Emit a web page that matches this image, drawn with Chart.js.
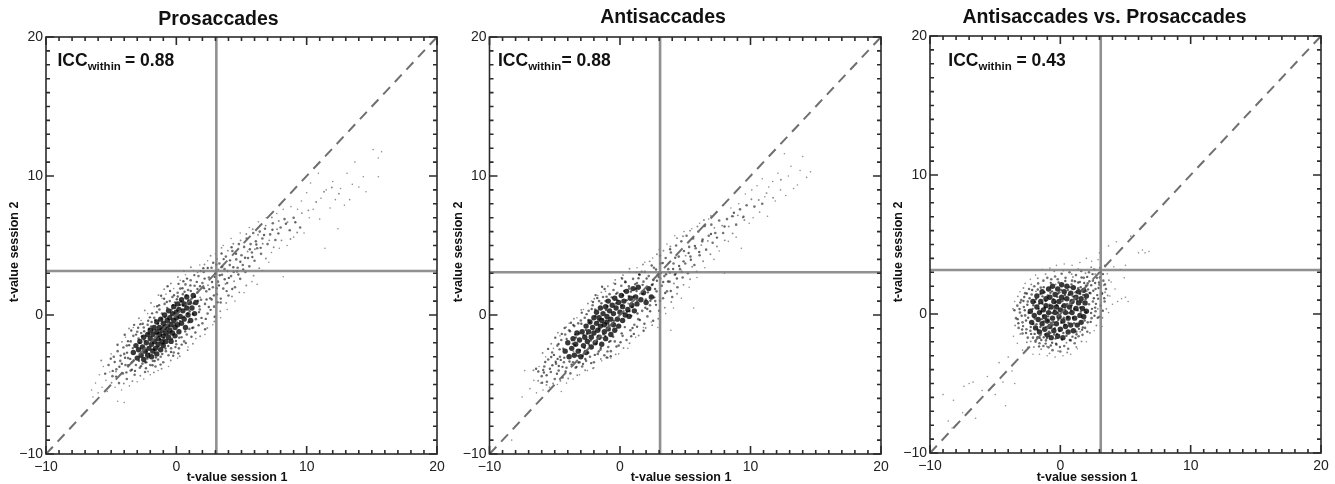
<!DOCTYPE html>
<html>
<head>
<meta charset="utf-8">
<title>Test-retest t-values</title>
<script src="https://cdn.jsdelivr.net/npm/chart.js@4/dist/chart.umd.min.js"></script>
<style>
  html, body { margin: 0; padding: 0; background: #fff; overflow: hidden; }
  body { width: 1335px; height: 484px; position: relative; }
  canvas { position: absolute; top: 0; }
</style>
</head>
<body>
<canvas id="pro"></canvas>
<canvas id="anti"></canvas>
<canvas id="diff"></canvas>
<script>
// Axis values
const tickValues = [-10, 0, 10, 20];
const tickLabels = ['\u221210', '0', '10', '20'];
const diagonal = [-10, 20];
const axisNames = ['t-value session 1', 't-value session 2'];

// Panel text
const panelTitles = ['Prosaccades', 'Antisaccades', 'Antisaccades vs. Prosaccades'];
const iccValues = ['0.88', '0.88', '0.43'];

// Significance thresholds per panel (session 1, session 2)
const proThreshold = [3.07, 3.17];
const antiThreshold = [3.07, 3.08];
const diffThreshold = [3.1, 3.17];

const proCore = [[-3.3,-2.7],[-3.1,-2.2],[-3.0,-3.1],[-2.9,-2.5],[-2.8,-1.9],[-2.7,-2.9],[-2.6,-2.3],[-2.5,-1.6],[-2.5,-3.2],[-2.4,-2.6],[-2.3,-2.0],[-2.2,-1.4],[-2.2,-2.9],[-2.1,-2.4],[-2.0,-1.7],[-2.0,-1.1],[-1.9,-3.0],[-1.9,-2.1],[-1.8,-2.6],[-1.8,-1.4],[-1.7,-0.9],[-1.7,-1.9],[-1.6,-2.4],[-1.5,-1.2],[-1.5,-0.5],[-1.5,-2.8],[-1.4,-1.7],[-1.4,-2.1],[-1.3,-0.9],[-1.3,-1.4],[-1.2,-2.5],[-1.2,-0.3],[-1.1,-1.9],[-1.1,-1.1],[-1.0,-0.6],[-1.0,-1.5],[-1.0,-2.2],[-0.9,-0.9],[-0.9,0.0],[-0.8,-1.3],[-0.8,-1.9],[-0.7,-0.4],[-0.7,-0.8],[-0.6,-1.6],[-0.6,0.3],[-0.5,-1.1],[-0.5,-0.2],[-0.4,-0.7],[-0.4,-1.9],[-0.3,0.1],[-0.3,-1.3],[-0.2,-0.4],[-0.2,0.6],[-0.1,-0.9],[-0.1,-1.5],[0.0,0.2],[0.0,-0.2],[0.1,-0.7],[0.1,0.8],[0.2,-1.2],[0.2,0.4],[0.3,-0.1],[0.4,1.1],[0.4,-0.6],[0.5,0.3],[0.6,-0.3],[0.6,0.8],[0.7,-0.9],[0.8,0.5],[0.8,1.3],[0.9,0.0],[1.0,0.9],[1.1,-0.4],[1.2,0.5],[1.3,1.4],[1.4,0.1],[1.5,0.9]];
const proBody = [[-5.2,-3.6],[-4.9,-4.4],[-4.8,-3.0],[-4.6,-3.9],[-4.5,-2.6],[-4.4,-4.9],[-4.3,-3.3],[-4.1,-4.2],[-4.0,-2.8],[-3.9,-3.6],[-3.8,-2.2],[-3.8,-4.6],[-3.7,-3.1],[-3.5,-4.0],[-3.5,-1.9],[-3.4,-3.4],[-3.3,-1.5],[-3.2,-4.3],[-3.1,-3.6],[-3.0,-1.2],[-2.9,-1.7],[-2.8,-3.8],[-2.7,-1.3],[-2.6,-3.5],[-2.5,-0.9],[-2.4,-4.1],[-2.3,-3.4],[-2.2,-0.7],[-2.1,-1.0],[-2.0,-3.6],[-1.9,-0.5],[-1.8,-3.3],[-1.7,-0.2],[-1.6,-3.7],[-1.5,0.2],[-1.4,-3.2],[-1.3,0.4],[-1.2,-3.0],[-1.1,0.1],[-1.0,-3.4],[-0.9,0.8],[-0.8,-2.6],[-0.7,0.5],[-0.6,-2.9],[-0.5,1.0],[-0.4,-2.4],[-0.3,1.3],[-0.2,-2.7],[-0.1,0.9],[0,-2.1],[0.1,1.6],[0.2,-2.4],[0.3,1.9],[0.4,-1.6],[0.5,1.5],[0.6,-1.9],[0.7,2.2],[0.8,-1.4],[0.9,1.8],[1.0,-1.0],[1.1,2.5],[1.2,1.2],[1.3,-0.9],[1.4,2.1],[1.5,-0.3],[1.6,1.6],[1.7,2.8],[1.8,0.4],[1.9,1.1],[2.0,-0.6],[2.0,2.3],[2.1,3.1],[2.2,0.8],[2.3,1.7],[2.4,0.1],[2.5,2.7],[2.6,1.2],[2.7,3.4],[2.8,2.0],[2.9,0.6],[3.0,3.0],[3.1,1.5],[3.2,2.4],[3.3,3.7],[3.4,0.9],[3.5,2.9],[3.6,1.9],[3.7,3.3],[3.8,4.2],[3.9,2.3],[4.0,1.4],[4.1,3.6],[4.2,2.8],[4.3,4.6],[4.4,3.1],[4.5,2.0],[4.6,4.0],[4.7,3.4],[4.8,5.1],[4.9,2.6],[5.0,4.3],[5.1,3.6],[5.2,4.9],[5.3,3.1],[5.4,5.5],[5.5,4.1],[5.6,3.5],[5.7,5.1],[5.8,4.5],[5.9,5.9],[6.0,3.9],[6.1,5.3],[6.2,4.8],[6.4,6.0],[6.5,4.4],[6.6,5.5],[6.8,6.2],[7.0,5.1],[7.2,5.8],[7.4,6.6],[7.6,5.4],[8.0,6.3],[8.3,6.9],[8.7,6.1],[9.0,7.0],[9.5,6.3]];
const proFill = [[-3.62,-2.17],[-1.13,-0.27],[0.47,1.92],[-2.38,-3.41],[1.76,0.63],[-0.41,-2.66],[3.27,2.13],[-4.37,-3.72],[-1.94,-0.83],[0.93,-0.52],[2.41,3.38],[-3.09,-1.41],[-0.18,1.42],[1.38,2.87],[-2.71,-3.68],[4.12,3.93],[0.22,-1.63],[-1.57,-3.06],[2.88,1.41],[-4.06,-2.33],[-0.73,0.94],[1.11,1.73],[-3.41,-3.93],[0.68,-1.18],[-2.16,-0.41],[2.17,2.62],[-1.32,0.71],[3.71,2.57],[-5.03,-3.14],[-0.07,-2.31],[1.93,-0.21],[-2.93,-0.92],[0.36,0.97],[-1.79,-1.13],[4.76,2.91],[-3.78,-2.71],[1.57,2.38],[-0.52,-0.52],[2.63,0.37],[-1.08,-2.81],[0.82,2.62],[-4.62,-4.43],[3.06,3.63],[-2.47,-1.17],[-0.33,-1.71],[1.22,-0.93],[-3.27,-3.27],[2.32,1.12],[-1.41,-0.63],[0.04,1.13],[3.86,1.72],[-2.06,-2.78],[-0.94,1.17],[1.67,1.03],[-3.93,-3.08],[4.37,3.44],[0.58,-0.13],[-1.66,-3.31],[2.74,2.37],[-2.82,-2.02],[-0.26,0.71],[1.03,0.26],[5.27,4.12],[-4.18,-3.51],[0.15,-2.76],[2.12,1.93],[-1.24,-1.72],[3.41,1.18],[-3.46,-1.12],[0.76,1.41],[-0.62,-2.23],[1.46,-1.26],[-2.58,-0.63],[2.96,2.74],[-1.86,0.12],[4.58,4.41],[-4.73,-3.38],[0.31,0.73],[-0.86,-0.17],[1.82,2.07],[-3.17,-4.02],[3.52,3.47],[-2.27,-2.62],[0.54,2.43],[-1.47,0.63],[2.26,-0.28],[-3.71,-1.88],[1.16,-1.57],[-0.48,1.73],[5.64,4.73],[-2.64,-1.52],[0.87,0.13],[3.16,0.92],[-1.72,-2.47],[-0.12,-0.63],[2.53,1.86],[-4.27,-2.92],[1.31,0.83],[4.03,2.67],[-3.54,-3.16],[-0.96,-1.67],[0.63,1.67],[-2.03,-0.17],[2.07,3.37],[-1.21,-3.57],[3.63,4.02],[-0.67,2.07],[1.71,-0.74],[-3.83,-4.13],[0.41,-2.13],[-2.87,-3.29],[4.91,3.83],[-1.62,-0.36],[2.71,1.12],[-0.24,-2.93],[1.08,2.13],[-4.88,-4.02],[3.33,2.86],[-2.12,-1.33],[0.17,2.24],[-1.03,-2.06],[1.87,3.16],[-3.34,-2.38],[6.14,5.07],[0.73,-2.02],[2.94,-0.13],[-0.78,-1.06],[-2.33,-3.83],[4.29,1.87],[1.27,0.06],[-1.39,-2.29],[3.93,3.17],[-0.37,0.38],[-2.76,-0.66],[5.83,4.17],[0.94,1.07],[-3.96,-1.42],[2.21,-1.03],[-1.17,1.38],[3.47,4.42],[-0.03,-1.87],[1.62,1.87],[-4.51,-2.14],[6.73,5.76],[0.27,-0.42],[-1.83,-3.62],[2.49,0.58],[4.66,3.13],[-3.24,-0.71],[7.37,6.13],[0.52,0.68],[-0.83,-2.41],[1.74,0.21],[5.13,3.28],[-2.44,-1.84],[3.09,1.93],[-1.54,-1.36],[7.83,5.87],[0.11,1.33],[-5.46,-4.22],[2.83,3.76],[-0.57,-1.33],[6.47,4.83],[1.43,1.31],[-2.22,-3.13],[8.41,6.56],[4.24,4.87],[-3.69,-3.62],[9.13,6.67]];
const proHalo = [[-5.76,-3.27],[-4.17,-1.93],[-3.63,-0.97],[-2.87,-0.23],[-2.42,0.33],[-1.94,0.87],[-1.37,1.43],[-0.93,1.86],[-0.42,2.27],[0.12,2.73],[0.58,3.17],[1.12,3.43],[1.63,3.07],[2.16,3.63],[2.63,4.26],[3.12,4.03],[3.47,4.83],[3.96,4.63],[4.37,5.13],[4.93,5.37],[5.37,5.83],[5.86,6.17],[6.27,5.77],[6.86,6.43],[7.33,7.02],[7.86,6.76],[-4.97,-4.87],[-4.63,-4.06],[-4.03,-4.93],[-3.37,-4.76],[-2.76,-4.37],[-2.17,-4.07],[-1.72,-4.13],[-1.13,-3.87],[-0.43,-3.27],[0.26,-2.97],[0.87,-2.53],[1.27,-2.07],[1.83,-1.53],[2.38,-0.93],[2.92,-0.47],[3.37,0.27],[3.83,0.87],[4.27,1.33],[4.83,1.63],[5.37,2.12],[5.93,2.83],[6.36,3.37],[6.87,4.06],[7.47,4.87],[8.07,5.37],[8.76,5.47],[9.27,5.93],[-2.53,-2.27],[-1.47,-1.57],[-0.66,-1.07],[0.06,-0.47],[0.97,0.33],[1.83,1.27],[2.43,2.14],[3.23,3.27],[3.77,2.23],[4.43,2.43],[5.47,4.57],[6.03,4.73],[6.63,5.13],[7.13,5.37],[7.73,6.17],[8.53,6.67],[9.63,7.33],[10.13,7.53],[10.73,8.13],[11.33,8.87],[11.93,9.17],[12.47,8.73]];
const proSparse = [[-6.5,-5.4],[-6.4,-5.9],[-6.2,-4.9],[-6.0,-5.6],[-5.9,-4.3],[-5.7,-5.2],[-5.6,-3.7],[-5.4,-4.7],[-5.3,-5.5],[-5.1,-4.1],[-5.0,-2.8],[-4.7,-5.2],[-4.5,-6.2],[-4.2,-5.4],[-4.0,-6.3],[-3.9,-1.6],[-3.6,-5.1],[-3.3,-0.9],[-3.0,-4.8],[-2.7,-0.4],[-2.5,-4.6],[-2.2,0.1],[-2.0,-4.3],[-1.7,0.6],[-1.4,-4.0],[-1.1,1.2],[-0.8,1.5],[-0.6,-3.7],[-0.2,1.9],[0.1,-3.1],[0.3,2.5],[0.7,2.9],[0.9,-2.3],[1.3,3.2],[1.5,-1.7],[1.8,3.6],[2.2,-1.4],[2.4,3.9],[2.8,-0.7],[3.0,4.4],[3.4,-0.2],[3.6,5.0],[3.9,0.4],[4.2,5.5],[4.5,1.0],[4.9,5.9],[5.2,1.6],[5.6,6.3],[5.8,2.4],[6.2,2.2],[6.3,6.7],[6.6,3.2],[6.9,7.0],[7.1,3.8],[7.3,4.5],[7.7,7.3],[7.9,4.8],[8.2,2.75],[8.2,7.6],[8.5,5.0],[8.8,7.8],[9.0,5.6],[9.3,7.6],[9.6,8.2],[9.8,5.9],[10.0,8.8],[10.2,7.0],[10.3,9.5],[10.5,7.6],[10.9,10.2],[11.0,6.9],[11.1,8.4],[11.4,4.8],[11.5,9.0],[11.8,7.7],[12.0,9.6],[12.2,8.3],[12.4,6.2],[12.6,9.1],[12.9,7.9],[13.1,10.2],[13.3,8.3],[13.5,9.4],[13.7,11.0],[14.0,9.2],[14.35,9.95],[14.55,8.87],[15.1,11.9],[15.5,9.95],[15.5,11.3],[15.75,11.75]];

// Antisaccades
const antiCore = [[-4.2,-2.6],[-4.0,-2.0],[-3.9,-3.0],[-3.7,-2.4],[-3.6,-1.7],[-3.5,-2.9],[-3.4,-2.1],[-3.3,-1.3],[-3.2,-2.6],[-3.1,-1.8],[-3.0,-3.0],[-2.9,-1.2],[-2.8,-2.2],[-2.7,-1.6],[-2.6,-0.8],[-2.6,-2.7],[-2.5,-1.9],[-2.4,-1.2],[-2.3,-0.5],[-2.2,-2.3],[-2.2,-1.6],[-2.1,-0.9],[-2.0,-0.2],[-2.0,-1.3],[-1.9,-2.0],[-1.8,-0.6],[-1.8,0.2],[-1.7,-1.1],[-1.6,-1.6],[-1.6,-0.2],[-1.5,-0.8],[-1.5,0.5],[-1.4,-2.1],[-1.4,-0.4],[-1.3,0.1],[-1.2,-1.2],[-1.2,-0.7],[-1.1,0.6],[-1.1,-1.7],[-1.0,-0.1],[-1.0,-0.5],[-0.9,1.0],[-0.9,-1.0],[-0.8,0.3],[-0.7,-1.4],[-0.7,-0.3],[-0.6,0.7],[-0.5,-0.7],[-0.5,0.1],[-0.4,1.2],[-0.4,-1.1],[-0.3,0.5],[-0.2,-0.3],[-0.1,0.9],[-0.1,-0.8],[0.0,0.2],[0.1,1.4],[0.2,-0.4],[0.2,0.6],[0.3,1.0],[0.4,0.0],[0.5,1.7],[0.6,0.4],[0.7,-0.1],[0.8,1.2],[0.9,0.7],[1.0,1.9],[1.1,0.3],[1.2,1.3],[1.3,0.8],[1.4,2.0],[1.6,1.1],[1.8,1.6],[2.0,0.9],[2.2,1.9],[2.4,1.3]];
const antiBody = [[-6.0,-4.4],[-5.8,-3.7],[-5.6,-4.8],[-5.5,-3.2],[-5.3,-4.1],[-5.2,-2.7],[-5.0,-4.6],[-4.9,-3.5],[-4.8,-2.2],[-4.7,-4.0],[-4.6,-3.0],[-4.5,-1.8],[-4.4,-4.5],[-4.3,-3.4],[-4.2,-1.4],[-4.1,-3.8],[-3.9,-1.1],[-3.8,-4.2],[-3.6,-3.4],[-3.5,-0.8],[-3.4,-3.8],[-3.2,-0.6],[-3.1,-3.4],[-3.0,-0.4],[-2.9,-3.7],[-2.7,-0.2],[-2.6,-3.3],[-2.4,0.3],[-2.3,-3.0],[-2.1,0.7],[-2.0,-3.4],[-1.9,0.4],[-1.7,-2.8],[-1.6,1.0],[-1.5,-2.5],[-1.3,1.3],[-1.2,-2.9],[-1.1,1.0],[-0.9,-2.3],[-0.8,1.5],[-0.7,-2.6],[-0.5,1.8],[-0.4,-1.9],[-0.2,1.6],[-0.1,-2.2],[0.1,2.1],[0.2,-1.5],[0.4,2.4],[0.5,-1.8],[0.7,1.9],[0.8,-1.1],[1.0,2.6],[1.1,-0.7],[1.3,2.3],[1.4,-0.3],[1.5,2.9],[1.7,0.3],[1.8,2.4],[1.9,3.1],[2.1,-0.1],[2.2,2.8],[2.3,0.7],[2.5,2.2],[2.6,3.4],[2.7,1.0],[2.8,1.7],[2.9,2.9],[3.0,0.3],[3.1,3.7],[3.2,2.1],[3.3,1.2],[3.4,2.8],[3.5,4.1],[3.6,1.7],[3.7,3.3],[3.8,2.4],[3.9,4.5],[4.0,1.3],[4.1,3.7],[4.2,2.9],[4.3,5.0],[4.4,2.0],[4.5,4.2],[4.6,3.3],[4.7,5.3],[4.8,2.7],[4.9,4.6],[5.0,3.7],[5.1,5.7],[5.2,3.0],[5.3,4.9],[5.4,4.2],[5.6,5.5],[5.7,3.6],[5.8,4.8],[6.0,6.0],[6.1,4.3],[6.3,5.3],[6.5,6.4],[6.6,4.7],[6.8,5.7],[7.0,6.5],[7.1,5.2],[7.3,5.9],[7.6,6.8],[7.9,5.9],[8.2,6.9],[8.6,7.1],[8.9,6.5],[9.2,7.6],[9.7,7.9],[10.3,7.8],[10.9,8.0]];
const antiFill = [[-4.63,-2.47],[-1.87,-0.07],[0.67,1.36],[-3.18,-3.42],[1.94,0.52],[-0.83,-1.93],[2.83,2.46],[-5.37,-3.87],[-2.62,-1.07],[0.37,-0.87],[2.04,2.63],[-4.09,-1.73],[-1.03,1.32],[1.17,2.21],[-3.71,-3.57],[3.82,3.06],[-0.52,-1.57],[-2.43,-2.71],[2.62,1.27],[-5.06,-2.87],[-1.42,0.84],[0.83,1.68],[-4.41,-3.73],[0.13,-1.32],[-2.96,-0.63],[1.73,2.17],[-2.07,0.93],[3.31,2.37],[-5.83,-4.14],[-0.96,-2.62],[1.52,-0.36],[-3.83,-1.17],[-0.21,1.07],[-2.79,-1.43],[4.36,2.63],[-4.78,-3.16],[1.27,1.73],[-1.32,-0.31],[2.31,0.27],[-1.93,-2.87],[0.42,2.36],[-5.62,-4.33],[2.76,3.27],[-3.37,-1.62],[-1.13,-1.51],[0.96,-0.93],[-4.27,-3.07],[1.98,1.12],[-2.31,-0.53],[-0.63,1.27],[3.46,1.58],[-2.86,-2.94],[-1.74,1.22],[1.33,1.04],[-4.93,-3.36],[4.07,3.31],[0.26,0.14],[-2.66,-3.17],[2.44,2.16],[-3.62,-2.06],[-0.97,0.63],[0.72,0.27],[4.87,3.86],[-5.18,-3.61],[-0.71,-2.96],[1.72,1.53],[-2.24,-1.84],[3.07,1.03],[-4.46,-1.36],[0.31,1.73],[-1.47,-2.37],[1.06,-1.36],[-3.58,-0.72],[2.56,2.52],[-2.56,0.06],[4.23,4.12],[-5.73,-3.38],[-0.32,0.83],[-1.66,-0.41],[1.42,2.64],[-4.17,-4.06],[3.12,3.03],[-3.07,-2.51],[0.16,2.63],[-2.17,0.43],[1.87,-0.63],[-4.71,-2.08],[0.86,-1.53],[-1.18,1.87],[5.26,4.46],[-3.44,-1.41],[0.54,0.23],[2.76,0.73],[-2.72,-2.37],[-0.86,-0.73],[2.13,1.63],[-5.27,-3.02],[0.94,0.56],[3.68,2.41],[-4.54,-3.23],[-1.76,-1.87],[0.23,1.42],[-2.93,0.17],[1.66,3.12],[-2.21,-3.46],[3.27,3.74],[-1.37,2.03],[1.31,-0.84],[-4.83,-4.23],[-0.27,-2.27],[-3.87,-3.34],[4.53,3.52],[-2.42,-0.36],[2.33,1.02],[-1.02,-3.06],[0.68,2.07],[-5.88,-3.96],[2.97,2.73],[-3.12,-1.33],[-0.37,2.24],[-1.83,-2.06],[1.47,2.93],[-4.34,-2.42],[5.74,4.97],[0.04,-1.96],[2.54,-0.41],[-1.58,-1.03],[-3.33,-3.73],[3.89,1.73],[0.87,-0.06],[-2.39,-2.12],[3.53,2.93],[-1.07,0.36],[-3.76,-0.56],[5.43,3.97],[0.52,1.07],[-4.96,-1.63],[1.81,-1.13],[-1.87,1.43],[3.07,4.27],[-0.73,-1.87],[1.21,1.87],[-5.51,-2.44],[6.33,5.43],[-0.46,-0.42],[-2.83,-3.52],[2.09,0.43],[4.26,2.97],[-4.24,-0.93],[6.97,5.83],[0.12,0.68],[-1.63,-2.62],[1.34,0.11],[4.73,3.11],[-3.44,-2.17],[2.69,1.87],[-2.54,-1.36],[7.43,5.57],[-0.29,1.52],[-6.26,-4.06],[2.43,3.56],[-1.27,-1.38],[6.07,4.53],[1.03,1.31],[-3.22,-2.93],[8.01,6.37],[3.84,4.73],[-4.69,-3.67],[8.73,7.36],[-6.43,-3.87],[9.46,7.07],[-5.97,-4.87]];
const antiHalo = [[-6.63,-3.97],[-5.93,-2.73],[-5.27,-2.07],[-4.76,-1.27],[-4.13,-0.87],[-3.53,-0.27],[-2.97,0.37],[-2.46,0.83],[-1.97,1.17],[-1.43,1.63],[-0.93,2.07],[-0.37,2.53],[0.23,2.87],[0.73,3.33],[1.23,3.07],[1.76,3.63],[2.27,3.86],[2.83,4.37],[3.33,4.63],[3.86,4.93],[4.37,5.53],[4.83,5.67],[5.37,6.07],[5.93,6.37],[6.43,6.83],[6.97,7.13],[-6.27,-4.73],[-5.63,-5.03],[-5.13,-4.93],[-4.57,-4.73],[-3.97,-4.57],[-3.27,-4.33],[-2.67,-3.97],[-2.07,-3.83],[-1.47,-3.17],[-0.93,-3.07],[-0.33,-2.83],[0.27,-2.37],[0.73,-2.03],[1.43,-1.47],[1.97,-0.93],[2.47,-0.73],[2.93,-0.27],[3.43,0.53],[3.93,0.93],[4.37,1.53],[4.87,2.17],[5.37,2.57],[5.87,3.13],[6.37,3.87],[6.93,4.37],[7.43,4.93],[8.03,5.37],[8.63,5.87],[-3.57,-2.63],[-2.33,-1.47],[-1.33,-1.63],[-0.23,-0.93],[0.63,0.83],[1.53,1.53],[2.37,1.33],[3.13,2.63],[3.73,3.73],[4.13,2.27],[5.03,4.27],[5.53,3.47],[6.23,5.03],[6.73,5.33],[7.23,6.27],[7.83,6.43],[8.33,6.37],[9.03,7.17],[9.53,6.83],[10.07,8.33],[10.63,8.27],[11.23,8.77],[11.73,8.43],[12.33,9.73]];
const antiSparse = [[-8.3,-9.0],[-7.5,-5.9],[-7.3,-4.0],[-6.9,-5.3],[-6.6,-4.7],[-6.4,-5.6],[-6.2,-3.7],[-6.1,-4.9],[-5.9,-5.4],[-5.7,-3.0],[-5.4,-5.2],[-5.1,-2.4],[-4.8,-5.0],[-4.5,-5.5],[-4.6,-1.5],[-4.1,-4.9],[-3.9,-0.6],[-3.6,-4.6],[-3.3,-0.2],[-3.1,-4.3],[-2.8,0.4],[-2.5,-4.0],[-2.2,1.0],[-2.0,-3.8],[-1.7,1.4],[-1.4,-3.3],[-1.1,1.7],[-0.7,-3.1],[-0.5,2.3],[-0.1,-2.8],[0.1,2.7],[0.6,-2.4],[0.7,3.1],[1.2,-1.6],[1.3,3.4],[1.8,-0.9],[1.9,3.8],[2.4,-0.5],[2.5,4.1],[2.9,-0.9],[3.0,4.7],[3.5,0.1],[3.6,5.1],[3.9,-1.1],[4.1,0.5],[4.2,5.7],[4.7,1.2],[4.9,6.0],[5.3,2.0],[5.5,6.2],[5.65,0.5],[5.9,2.7],[6.1,6.6],[6.5,3.4],[6.8,6.9],[7.2,4.0],[7.4,7.4],[7.6,4.6],[7.9,7.9],[8.0,3.0],[8.3,5.3],[8.5,7.7],[8.7,7.1],[8.9,5.6],[9.1,8.0],[9.3,4.8],[9.4,7.0],[9.6,8.7],[9.9,6.6],[10.1,9.0],[10.2,7.0],[10.5,9.3],[10.7,7.4],[10.9,9.8],[11.1,8.5],[11.3,7.1],[11.4,9.2],[11.7,9.6],[11.9,8.2],[12.1,10.2],[12.3,9.0],[12.6,11.6],[12.7,8.6],[12.9,10.0],[13.1,10.7],[13.3,9.1],[13.6,9.35],[13.8,10.4],[14.0,11.4],[14.3,9.9],[14.6,10.3]];

// Antisaccades vs. prosaccades
const diffCore = [[-2.3,0.2],[-2.2,-0.6],[-2.1,0.9],[-2.0,-0.1],[-1.9,-1.0],[-1.8,0.5],[-1.8,1.3],[-1.7,-0.4],[-1.6,0.1],[-1.6,-1.3],[-1.5,0.9],[-1.4,-0.7],[-1.4,1.6],[-1.3,0.3],[-1.2,-1.1],[-1.2,-0.2],[-1.1,1.1],[-1.1,0.6],[-1.0,-1.5],[-1.0,-0.5],[-0.9,1.8],[-0.9,0.1],[-0.8,-0.9],[-0.8,1.2],[-0.7,0.5],[-0.7,-1.7],[-0.6,-0.3],[-0.6,2.0],[-0.5,0.9],[-0.5,-1.2],[-0.4,0.1],[-0.4,1.4],[-0.3,-0.7],[-0.3,0.5],[-0.2,-1.6],[-0.2,1.8],[-0.1,-0.2],[-0.1,0.9],[0.0,-1.1],[0.0,0.3],[0.1,2.1],[0.1,1.2],[0.2,-0.5],[0.2,-1.7],[0.3,0.6],[0.3,1.6],[0.4,-0.9],[0.4,0.1],[0.5,1.1],[0.5,2.0],[0.6,-1.3],[0.6,-0.3],[0.7,0.5],[0.8,1.5],[0.8,-0.8],[0.9,0.1],[0.9,0.9],[1.0,-1.2],[1.0,1.9],[1.1,-0.3],[1.2,1.2],[1.2,0.4],[1.3,-0.8],[1.4,0.8],[1.4,1.6],[1.5,-0.1],[1.6,-0.6],[1.6,1.1],[1.7,0.4],[1.8,1.7],[1.8,-0.2],[1.9,0.8],[2.0,1.3],[2.0,0.2]];
const diffBody = [[-3.4,-0.3],[-3.3,0.6],[-3.2,-1.0],[-3.1,0.1],[-3.0,1.0],[-2.9,-0.6],[-2.9,-1.4],[-2.8,0.5],[-2.7,1.5],[-2.7,-0.1],[-2.6,-1.1],[-2.5,0.9],[-2.5,-1.7],[-2.4,1.8],[-2.3,-1.2],[-2.2,1.4],[-2.1,-1.7],[-2.0,2.0],[-1.9,-2.0],[-1.7,2.2],[-1.6,-2.1],[-1.5,1.9],[-1.3,-2.3],[-1.3,2.4],[-1.1,-1.9],[-1.0,2.6],[-0.9,-2.4],[-0.7,2.5],[-0.6,-2.6],[-0.4,2.7],[-0.3,-2.2],[-0.2,2.5],[0.0,-2.7],[0.1,2.9],[0.3,-2.3],[0.4,2.6],[0.6,-2.5],[0.7,3.0],[0.8,-1.9],[0.9,2.4],[1.1,-2.1],[1.2,2.8],[1.4,-1.6],[1.5,2.3],[1.6,3.1],[1.7,-1.5],[1.8,2.6],[1.9,-1.0],[2.1,-0.6],[2.1,2.2],[2.2,0.7],[2.2,3.0],[2.3,1.5],[2.4,-0.3],[2.5,2.4],[2.5,0.9],[2.6,3.2],[2.7,0.2],[2.7,1.8],[2.8,2.6],[2.9,1.1],[3.0,-0.2],[3.0,2.1],[3.1,0.6],[3.1,3.0],[3.2,1.5],[3.3,2.4],[3.4,0.9],[3.5,1.8]];
const diffFill = [[-2.63,-0.47],[-0.87,0.37],[1.37,1.86],[-1.58,-1.72],[2.24,1.52],[-0.33,-2.13],[2.67,0.46],[-3.07,0.83],[-1.22,1.57],[0.73,-1.87],[1.83,2.23],[-2.36,1.13],[-0.53,1.07],[1.07,0.36],[-1.97,-1.43],[2.83,1.36],[0.27,-0.27],[-1.43,-0.37],[1.52,0.47],[-2.86,-0.87],[-0.73,2.24],[0.57,1.73],[-2.13,0.37],[0.23,-1.37],[-1.07,-0.93],[1.67,-1.13],[-1.73,1.76],[2.37,2.07],[-3.22,-0.67],[-0.16,-0.43],[1.24,-1.46],[-2.47,-0.27],[-0.07,1.57],[-1.37,0.74],[3.26,0.23],[-2.77,1.22],[0.86,2.13],[-0.93,-0.17],[1.97,0.13],[-0.63,-2.07],[0.38,2.37],[-3.52,0.27],[2.06,2.67],[-1.83,-0.73],[-0.27,-1.43],[0.62,-0.63],[-2.24,-1.43],[1.33,0.27],[-1.17,0.47],[-0.37,0.83],[2.62,-0.13],[-1.46,-1.87],[-0.76,1.53],[0.97,1.27],[-2.53,0.67],[2.93,1.87],[0.13,0.57],[-1.13,-2.13],[1.76,1.37],[-1.93,0.87],[-0.47,0.27],[0.83,0.27],[3.37,1.13],[-2.93,-1.12],[-0.03,-2.37],[1.56,1.93],[-0.87,-1.27],[2.36,0.07],[-2.16,1.73],[0.07,1.73],[-0.57,-0.77],[0.93,-1.63],[-1.66,0.37],[1.93,1.07],[-1.27,1.93],[2.47,2.87],[-3.13,0.36],[-0.23,1.23],[-0.97,-0.47],[1.12,2.36],[-2.63,-1.37],[2.57,1.13],[-1.53,-0.93],[0.36,1.37],[-1.37,1.27],[1.43,-1.07],[-2.07,-0.73],[0.47,-1.57],[-0.63,1.63],[2.97,2.27],[-1.76,-1.67],[0.67,0.07],[1.87,-0.47],[-1.03,-1.73],[-0.17,0.07],[1.27,0.97],[-2.43,0.07],[0.53,0.73],[2.73,0.73],[-1.27,-0.53],[-0.43,-1.03],[0.17,0.93],[-1.87,1.07],[1.63,2.63],[-0.73,-2.27],[2.23,2.36],[-0.83,0.67],[1.06,-0.67],[-1.63,-2.33],[-0.07,-1.23],[-2.73,0.27],[3.17,1.43],[-1.47,0.17],[1.53,1.43],[-0.37,-1.77],[0.73,1.93],[-2.97,-0.13],[2.13,1.77],[-1.17,-1.47],[-0.13,2.27],[-0.53,-0.57],[1.17,1.56],[-2.27,-0.93],[3.43,2.13],[0.33,-0.77],[1.73,-0.97],[-0.97,1.33],[-1.73,-1.13],[2.43,0.37],[0.87,0.63],[-0.27,0.63],[1.37,2.27],[-1.33,-0.13],[-2.07,0.63],[2.87,-0.27],[0.27,1.07],[-3.27,-0.37],[1.63,0.87],[-0.63,0.07],[1.97,2.03],[-0.47,-1.47],[0.63,1.37],[-2.57,1.47],[3.03,2.63],[0.07,-0.63],[-1.53,1.43],[1.17,-1.73],[2.67,2.23],[-1.97,-0.33],[0.37,0.33],[-0.77,-1.37],[0.97,-0.27],[2.33,-0.57],[-1.13,0.93],[1.57,0.17],[-1.63,0.73],[3.27,2.87],[-0.17,1.47],[-2.83,0.93],[1.23,-1.27],[-0.73,-0.63],[2.53,1.67],[0.57,-0.23],[-1.27,-1.67],[0.13,-1.83],[2.07,-1.27]];
const diffHalo = [[-3.63,0.37],[-3.47,-0.83],[-3.26,1.27],[-3.07,-1.43],[-2.83,1.87],[-2.57,-2.03],[-2.23,2.13],[-2.03,-2.37],[-1.73,2.57],[-1.47,-2.53],[-1.13,2.87],[-0.83,-2.83],[-0.47,3.07],[-0.17,-2.67],[0.23,3.13],[0.53,-2.77],[0.87,2.87],[1.23,-2.37],[1.37,3.23],[1.63,-1.97],[1.93,2.93],[2.27,-1.37],[2.37,3.37],[2.77,-0.83],[2.67,2.87],[3.03,3.33],[3.23,-0.27],[3.33,2.07],[3.53,0.37],[3.63,1.33],[3.73,2.43],[-2.27,-1.97],[-1.87,1.63],[-1.03,-2.33],[-0.37,2.13],[0.47,-2.07],[0.97,2.67],[1.53,-1.27],[2.03,1.63],[2.87,0.37],[3.13,1.97],[3.43,1.57]];
const diffSparse = [[-9.0,-5.8],[-8.6,-7.7],[-8.3,-8.2],[-8.2,-6.2],[-8.0,-8.0],[-7.5,-7.1],[-7.4,-5.2],[-7.0,-5.0],[-6.7,-4.9],[-6.5,-7.5],[-6.0,-5.5],[-5.6,-4.5],[-5.0,-5.8],[-4.7,-3.5],[-4.4,-4.9],[-4.2,-6.6],[-4.0,-3.1],[-3.7,-4.1],[-3.5,-5.0],[-3.6,-1.6],[-3.5,0.9],[-3.3,-2.1],[-3.1,1.6],[-2.9,-2.6],[-2.7,2.2],[-2.5,-2.4],[-2.3,2.5],[-2.1,-2.9],[-1.9,2.8],[-1.6,-2.9],[-1.4,3.2],[-1.0,-3.0],[-0.8,3.3],[-0.4,-3.1],[-0.3,3.5],[0.2,-3.0],[0.3,3.6],[0.8,-2.9],[0.9,3.5],[1.3,-2.5],[1.5,3.7],[2.0,-2.0],[2.0,4.0],[2.4,3.8],[2.6,-1.2],[2.9,3.9],[3.0,4.4],[3.2,-0.9],[3.4,3.5],[3.6,2.9],[3.7,0.1],[3.7,4.9],[3.8,1.3],[3.9,2.3],[4.0,0.7],[4.1,3.4],[4.2,1.8],[4.3,5.2],[4.4,0.9],[4.6,3.2],[4.7,1.1],[4.9,2.6],[5.0,3.5],[5.0,1.2],[5.2,0.9],[5.4,5.6],[6.0,4.4],[6.3,4.6],[6.5,4.4],[6.8,4.5]];

// Canvas placement for each panel, in page pixels
const layouts = [
  { left: 0, width: 466, plotLeft: 46, plotRight: 437, plotTop: 37, plotBottom: 454, titleTop: 8, iccX: 57.5, iccEqX: 125, axisXCenter: 237, axisYCenter: 252 },
  { left: 445, width: 476, plotLeft: 489.5, plotRight: 881, plotTop: 37, plotBottom: 454, titleTop: 6, iccX: 498, iccEqX: 561.5, axisXCenter: 681, axisYCenter: 252 },
  { left: 888, width: 478, plotLeft: 930, plotRight: 1321, plotTop: 36, plotBottom: 453, titleTop: 6, iccX: 948.3, iccEqX: 1016.5, axisXCenter: 1087, axisYCenter: 252 }
];

const TEXT_FONT = '"Liberation Sans", Arial, sans-serif';
const FRAME_COLOR = '#2b2b2b';

function toPoints(pairs) {
  return pairs.map(p => ({ x: p[0], y: p[1] }));
}

function cloudDataset(pairs, radius, color) {
  return { data: toPoints(pairs), pointRadius: radius, pointBorderWidth: 0, pointBackgroundColor: color, showLine: false };
}

function lineDataset(points, color, width, dash) {
  return { data: points, showLine: true, pointRadius: 0, borderColor: color, borderWidth: width, borderDash: dash || [] };
}

// Box with inward ticks on all four sides, plus axis names and the ICC note
const framePlugin = {
  id: 'frame',
  afterDatasetsDraw(chart, args, opts) {
    const { ctx, chartArea: area, scales } = chart;
    const place = opts.place;
    ctx.save();
    ctx.strokeStyle = FRAME_COLOR;
    ctx.lineWidth = 1.6;
    ctx.strokeRect(area.left, area.top, area.right - area.left, area.bottom - area.top);

    ctx.beginPath();
    scales.x.ticks.forEach(t => {
      const px = scales.x.getPixelForValue(t.value);
      const len = tickValues.includes(t.value) ? 8 : 4;
      ctx.moveTo(px, area.bottom); ctx.lineTo(px, area.bottom - len);
      ctx.moveTo(px, area.top); ctx.lineTo(px, area.top + len);
    });
    scales.y.ticks.forEach(t => {
      const py = scales.y.getPixelForValue(t.value);
      const len = tickValues.includes(t.value) ? 8 : 4;
      ctx.moveTo(area.left, py); ctx.lineTo(area.left + len, py);
      ctx.moveTo(area.right, py); ctx.lineTo(area.right - len, py);
    });
    ctx.stroke();

    ctx.fillStyle = '#111';
    ctx.textBaseline = 'alphabetic';
    ctx.textAlign = 'left';
    ctx.font = 'bold 17.5px ' + TEXT_FONT;
    ctx.fillText('ICC', place.iccX - place.left, 65.5);
    const iccWidth = ctx.measureText('ICC').width;
    ctx.fillText('= ' + opts.icc, place.iccEqX - place.left, 65.5);
    ctx.font = 'bold 11.5px ' + TEXT_FONT;
    ctx.fillText('within', place.iccX - place.left + iccWidth, 70);

    ctx.font = 'bold 12.5px ' + TEXT_FONT;
    ctx.textAlign = 'center';
    ctx.fillText(axisNames[0], place.axisXCenter - place.left, 481);
    ctx.save();
    ctx.translate(18 + (place.plotLeft - place.left - 46), place.axisYCenter);
    ctx.rotate(-Math.PI / 2);
    ctx.fillText(axisNames[1], 0, 0);
    ctx.restore();
    ctx.restore();
  }
};

function axisOptions(fixSize) {
  return {
    type: 'linear',
    min: diagonal[0],
    max: diagonal[1],
    grid: { display: false, drawTicks: false },
    border: { display: false },
    afterBuildTicks(scale) {
      const ticks = [];
      for (let v = diagonal[0]; v <= diagonal[1]; v++) ticks.push({ value: v });
      scale.ticks = ticks;
    },
    afterFit: fixSize,
    ticks: {
      autoSkip: false,
      maxRotation: 0,
      color: '#222',
      font: { family: TEXT_FONT, size: 14 },
      callback(value) {
        const i = tickValues.indexOf(value);
        return i >= 0 ? tickLabels[i] : '';
      }
    }
  };
}

function makePanel(canvasId, index, core, body, fill, halo, sparse, threshold) {
  const place = layouts[index];
  const canvas = document.getElementById(canvasId);
  canvas.width = place.width;
  canvas.height = 484;
  canvas.style.left = place.left + 'px';

  const yAxis = axisOptions(s => { s.width = place.plotLeft - place.left; });
  yAxis.ticks.padding = 3;
  const xAxis = axisOptions(s => { s.height = 484 - place.plotBottom; });
  xAxis.ticks.padding = 5;

  const titleBlock = 23.4;
  new Chart(canvas.getContext('2d'), {
    type: 'scatter',
    data: {
      datasets: [
        lineDataset([{ x: diagonal[0], y: diagonal[0] }, { x: diagonal[1], y: diagonal[1] }], 'rgba(95,95,95,0.9)', 2, [10, 7]),
        lineDataset([{ x: threshold[0], y: diagonal[0] }, { x: threshold[0], y: diagonal[1] }], 'rgba(125,125,125,0.85)', 2.6),
        lineDataset([{ x: diagonal[0], y: threshold[1] }, { x: diagonal[1], y: threshold[1] }], 'rgba(125,125,125,0.85)', 2.6),
        cloudDataset(sparse, 0.8, 'rgba(50,50,50,0.55)'),
        cloudDataset(halo, 0.95, 'rgba(40,40,40,0.55)'),
        cloudDataset(fill, 1.2, 'rgba(0,0,0,0.62)'),
        cloudDataset(body, 1.3, 'rgba(0,0,0,0.55)'),
        cloudDataset(core, 2.7, 'rgba(0,0,0,0.78)')
      ]
    },
    options: {
      responsive: false,
      animation: false,
      events: [],
      layout: { padding: { right: place.left + place.width - place.plotRight } },
      scales: { x: xAxis, y: yAxis },
      plugins: {
        legend: { display: false },
        tooltip: { enabled: false },
        title: {
          display: true,
          text: panelTitles[index],
          color: '#111',
          font: { family: TEXT_FONT, size: 19.5, weight: 'bold' },
          padding: { top: place.titleTop, bottom: place.plotTop - place.titleTop - titleBlock }
        },
        frame: { place: place, icc: iccValues[index] }
      }
    },
    plugins: [framePlugin]
  });
}

makePanel('pro', 0, proCore, proBody, proFill, proHalo, proSparse, proThreshold);
makePanel('anti', 1, antiCore, antiBody, antiFill, antiHalo, antiSparse, antiThreshold);
makePanel('diff', 2, diffCore, diffBody, diffFill, diffHalo, diffSparse, diffThreshold);
</script>
</body>
</html>
